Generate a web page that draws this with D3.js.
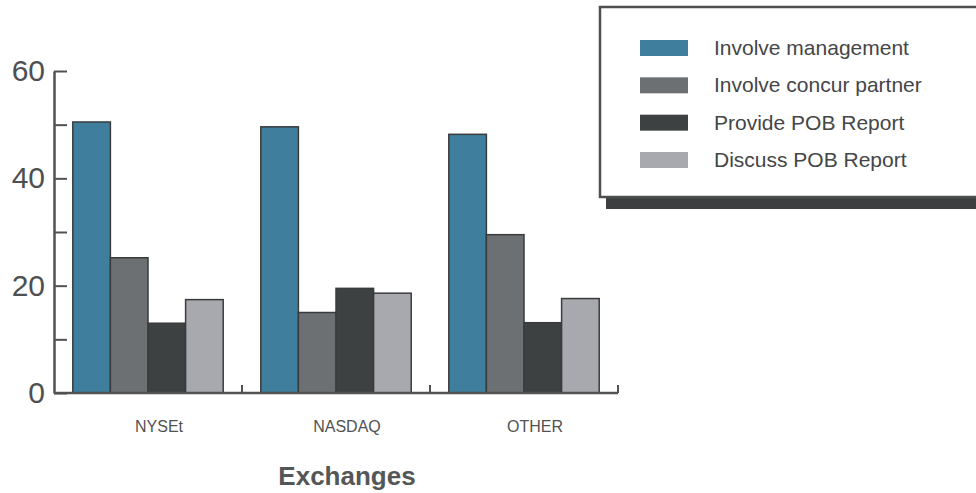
<!DOCTYPE html>
<html><head><meta charset="utf-8">
<script src="https://cdn.jsdelivr.net/npm/d3@7"></script>
<style>body{margin:0;background:#fff}svg{display:block}</style>
</head><body>
<svg id="c" width="976" height="493"></svg>
<script>
const categories = ["NYSEt", "NASDAQ", "OTHER"];
const seriesNames = ["Involve management", "Involve concur partner", "Provide POB Report", "Discuss POB Report"];
const involveManagement = [50.5, 49.6, 48.2];
const involveConcurPartner = [25.2, 15.0, 29.5];
const providePOBReport = [13.0, 19.5, 13.1];
const discussPOBReport = [17.4, 18.6, 17.6];
const yTicks = [0, 10, 20, 30, 40, 50, 60];
const yLabels = [0, 20, 40, 60];
const xTitle = "Exchanges";
const colors = ["#3f7e9c", "#6d7073", "#3e4142", "#a8a9ae"];

const series = [involveManagement, involveConcurPartner, providePOBReport, discussPOBReport];
const svg = d3.select("#c");
const axisColor = "#505352";
const font = "Liberation Sans, Arial, sans-serif";

const x0 = d3.scaleBand().domain(categories).range([54, 618]).paddingInner(0.2).paddingOuter(0.1);
const x1 = d3.scaleBand().domain(d3.range(series.length)).range([0, x0.bandwidth()]);
const y = d3.scaleLinear().domain([0, 60]).range([393, 71]);

// bars
const g = svg.append("g");
categories.forEach((c, ci) => {
  series.forEach((s, si) => {
    g.append("rect")
      .attr("x", x0(c) + x1(si))
      .attr("y", y(s[ci]))
      .attr("width", x1.bandwidth())
      .attr("height", y(0) - y(s[ci]))
      .attr("fill", colors[si])
      .attr("stroke", "#3a3c3c")
      .attr("stroke-width", 1.5);
  });
});

// y axis
const yAxis = d3.axisLeft(y).tickValues(yTicks).tickSizeInner(-13).tickSizeOuter(0).tickPadding(9)
  .tickFormat(d => yLabels.includes(d) ? d : "");
const ya = svg.append("g").attr("transform", "translate(54,0)").call(yAxis);
ya.select(".domain").attr("stroke", axisColor).attr("stroke-width", 2.5);
ya.selectAll(".tick line").attr("stroke", axisColor).attr("stroke-width", 2);
ya.selectAll(".tick text").attr("fill", "#4d4f50").attr("font-family", font).attr("font-size", 30);

// x axis baseline
const step = x0.step();
const xStart = x0.range()[0];
svg.append("line").attr("x1", xStart).attr("x2", x0.range()[1]).attr("y1", y(0)).attr("y2", y(0))
  .attr("stroke", axisColor).attr("stroke-width", 2.5);
categories.forEach((c, i) => {
  const bx = xStart + step * (i + 1);
  svg.append("line").attr("x1", bx).attr("x2", bx).attr("y1", y(0)).attr("y2", y(0) - 8)
    .attr("stroke", axisColor).attr("stroke-width", 2);
});
// category labels
svg.append("g").selectAll("text").data(categories).join("text")
  .attr("x", d => x0(d) + x0.bandwidth() / 2 + 11)
  .attr("y", 432)
  .attr("text-anchor", "middle")
  .attr("fill", "#505253")
  .attr("font-family", font)
  .attr("font-size", 16)
  .text(d => d);
// title
svg.append("text").attr("x", 347).attr("y", 485).attr("text-anchor", "middle")
  .attr("fill", "#555757").attr("font-weight", "bold")
  .attr("font-family", font).attr("font-size", 26)
  .text(xTitle);

// legend
const lg = svg.append("g");
lg.append("rect").attr("x", 606).attr("y", 197).attr("width", 380).attr("height", 12).attr("fill", "#3d3f40");
lg.append("rect").attr("x", 600).attr("y", 7).attr("width", 390).attr("height", 190)
  .attr("fill", "#fff").attr("stroke", "#4e5050").attr("stroke-width", 2.5);
const ly = d3.scalePoint().domain(d3.range(seriesNames.length)).range([48, 160]);
seriesNames.forEach((n, i) => {
  lg.append("rect").attr("x", 640).attr("y", ly(i) - 8).attr("width", 48).attr("height", 16).attr("fill", colors[i]);
  lg.append("text").attr("x", 714).attr("y", ly(i) + 7).attr("fill", "#444647")
    .attr("font-family", font).attr("font-size", 21).text(n);
});
</script>
</body></html>
